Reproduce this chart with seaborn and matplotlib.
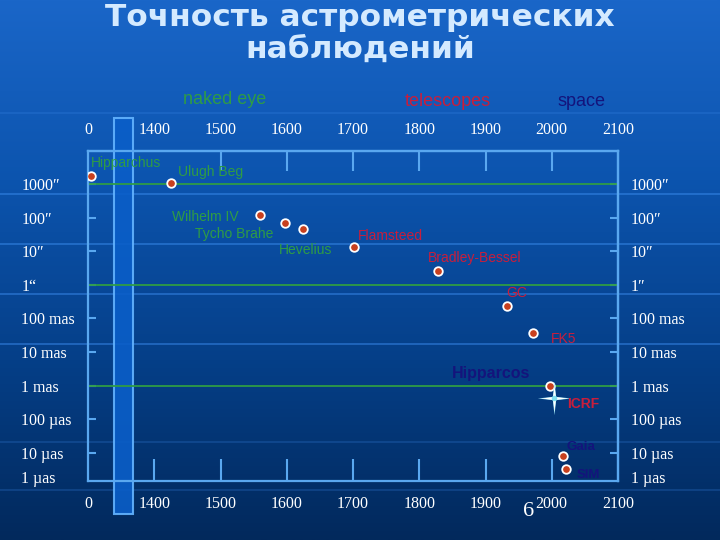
import numpy as np
import pandas as pd
import matplotlib
matplotlib.use("Agg")
import matplotlib.pyplot as plt
import matplotlib.transforms as mtrans
from matplotlib.colors import LinearSegmentedColormap
from matplotlib.patches import Rectangle
from matplotlib.path import Path
import seaborn as sns

# ---------------- data ----------------
names = ["Hipparchus", "Ulugh Beg", "Wilhelm IV", "Tycho Brahe", "Hevelius",
         "Flamsteed", "Bradley-Bessel", "GC", "FK5", "Hipparcos", "Gaia", "SIM"]
# position on the (broken) year axis; Hipparchus sits just right of the "0" break
plot_years = [1305, 1425, 1560, 1598, 1625, 1701, 1829, 1932, 1972, 1998, 2017, 2022]
# log10 of accuracy in arcseconds (3 = 1000", 0 = 1", -3 = 1 mas, -6 = 1 µas)
log_accuracy = [3.25, 3.02, 2.07, 1.84, 1.65, 1.13, 0.42, -0.64, -1.43, -3.01, -5.10, -5.48]
groups = ["naked eye"] * 5 + ["telescopes"] * 4 + ["space"] * 3

icrf_year = 2003
icrf_log = -3.36

x_tick_pos = [1300, 1400, 1500, 1600, 1700, 1800, 1900, 2000, 2100]
x_tick_labels = ["0", "1400", "1500", "1600", "1700", "1800", "1900", "2000", "2100"]
x_bottom_marks = [1400, 1500, 1600, 1700, 1800, 1900, 2000]
x_top_marks = [1500, 1600, 1700, 1800, 1900, 2000]

# the "1 µas" label sits just above the bottom frame (no tick mark there)
y_tick_pos = [3, 2, 1, 0, -1, -2, -3, -4, -5, -5.72]
y_left_labels = ["1000″", "100″", "10″", "1“", "100 mas", "10 mas", "1 mas",
                 "100 µas", "10 µas", "1 µas"]
y_right_labels = ["1000″", "100″", "10″", "1″", "100 mas", "10 mas", "1 mas",
                  "100 µas", "10 µas", "1 µas"]
y_marks = [3, 2, 1, 0, -1, -2, -3, -4, -5]
ref_lines = [3, 0, -3]

# label placement (offset in pixels, horizontal alignment) -- layout only
label_layout = {
    "Hipparchus": (0, 13, "left"), "Ulugh Beg": (7, 11, "left"),
    "Wilhelm IV": (-22, -2, "right"), "Tycho Brahe": (-12, -11, "right"),
    "Hevelius": (-24, -21, "left"), "Flamsteed": (4, 11, "left"),
    "Bradley-Bessel": (-11, 13, "left"), "GC": (0, 13, "left"),
    "FK5": (18, -6, "left"), "Hipparcos": (-99, 12, "left"),
    "Gaia": (3, 9, "left"), "SIM": (10, -6, "left"),
}
GREEN = "#2f9c45"
RED = "#c81e3c"
NAVY = "#14147c"
group_color = {"naked eye": GREEN, "telescopes": RED, "space": NAVY}
AXC = "#5aa8f0"

sns.set_theme(style="white")
plt.rcParams["font.family"] = ["Liberation Sans", "DejaVu Sans"]

fig = plt.figure(figsize=(7.2, 5.4), dpi=100)

# background gradient
bg = fig.add_axes([0, 0, 1, 1], zorder=-10)
grad = np.linspace(0, 1, 256)[:, None]
cmap = LinearSegmentedColormap.from_list("bg", ["#1a66c8", "#0c54ae", "#053f88", "#02295c"])
bg.imshow(grad, aspect="auto", cmap=cmap, extent=[0, 1, 0, 1], origin="upper")
for ypx, a in [(113, 0.25), (194, 0.55), (244, 0.55), (294, 0.55), (344, 0.55), (442, 0.25), (490, 0.25)]:
    bg.axhline(1 - ypx / 540, color="#3d8ef0", lw=1.2, alpha=a)
bg.set_xlim(0, 1)
bg.set_ylim(0, 1)
bg.axis("off")

ax = fig.add_axes([88 / 720, 59 / 540, 530 / 720, 330 / 540])
ax.patch.set_alpha(0)

df = pd.DataFrame({"year": plot_years, "logacc": log_accuracy, "name": names, "group": groups})

for v in ref_lines:
    ax.axhline(v, color=GREEN, lw=1.3, zorder=2)

sns.scatterplot(data=df, x="year", y="logacc", ax=ax, s=38, color="#c8401e",
                edgecolor="white", linewidth=1.3, zorder=5, legend=False)

ax.set_xlim(1300, 2100)
ax.set_ylim(-5.84, 3.98)
ax.set_xlabel("")
ax.set_ylabel("")

# vertical translucent band (axis break marker)
trans = mtrans.blended_transform_factory(ax.transData, fig.transFigure)
ax.add_patch(Rectangle((1339, 26 / 540), 29, 396 / 540, transform=trans,
                       facecolor="#0a5ec8", edgecolor="#64b4ff", lw=1.5,
                       alpha=0.9, clip_on=False, zorder=1))

# labels
for _, r in df.iterrows():
    dx, dy, ha = label_layout[r["name"]]
    bold = r["group"] == "space"
    fs = 11.5 if r["name"] == "Hipparcos" else (9.5 if bold else 10)
    ax.annotate(r["name"], (r["year"], r["logacc"]), xytext=(dx, dy),
                textcoords="offset pixels", ha=ha, va="center",
                color=group_color[r["group"]], fontsize=fs,
                fontweight="bold" if bold else "normal", zorder=6)

# ICRF star
s = 0.1
star = Path([(0, 1), (s, s), (1, 0), (s, -s), (0, -1), (-s, -s), (-1, 0), (-s, s), (0, 1)],
            [Path.MOVETO] + [Path.LINETO] * 7 + [Path.CLOSEPOLY])
ax.plot([icrf_year], [icrf_log], marker=star, markersize=24, color="#9fe8f8", mec="none", zorder=7)
ax.plot([icrf_year], [icrf_log], marker=star, markersize=19, color="white", mec="none", zorder=8)
ax.plot([icrf_year], [icrf_log], marker="o", markersize=4, color="#7fe0f0", mec="none", zorder=9)
ax.annotate("ICRF", (icrf_year, icrf_log), xytext=(13, -6), textcoords="offset pixels",
            ha="left", va="center", color=RED, fontsize=10, fontweight="bold", zorder=9)

# spines
for sp in ax.spines.values():
    sp.set_color(AXC)
    sp.set_linewidth(1.6)

TFS = 11.5

# bottom x axis
ax.xaxis.remove_overlapping_locs = False
ax.yaxis.remove_overlapping_locs = False
ax.set_xticks(x_tick_pos, x_tick_labels)
ax.set_xticks(x_bottom_marks, minor=True)
ax.tick_params(axis="x", which="major", length=0, pad=10.5, labelsize=TFS, labelcolor="white")
ax.tick_params(axis="x", which="minor", direction="in", length=15.8, width=1.5, color=AXC,
               bottom=True, top=False)
for lbl in ax.get_xticklabels():
    lbl.set_family("Liberation Serif")

# top x axis
secx = ax.secondary_xaxis("top")
secx.xaxis.remove_overlapping_locs = False
secx.set_xticks(x_tick_pos, x_tick_labels)
secx.set_xticks(x_top_marks, minor=True)
secx.tick_params(axis="x", which="major", length=0, pad=9, labelsize=TFS, labelcolor="white")
secx.tick_params(axis="x", which="minor", direction="in", length=14.4, width=1.5, color=AXC,
                 top=True)
secx.spines["top"].set_color(AXC)
secx.spines["top"].set_linewidth(1.6)
for lbl in secx.get_xticklabels():
    lbl.set_family("Liberation Serif")

# left y axis
ax.set_yticks(y_tick_pos, y_left_labels)
ax.set_yticks(y_marks, minor=True)
ax.tick_params(axis="y", which="major", length=0, pad=48, labelsize=TFS, labelcolor="white")
ax.tick_params(axis="y", which="minor", direction="in", length=5.8, width=1.5, color=AXC,
               left=True, right=False)
for lbl in ax.get_yticklabels():
    lbl.set_family("Liberation Serif")
    lbl.set_horizontalalignment("left")

# right y axis
secy = ax.secondary_yaxis("right")
secy.yaxis.remove_overlapping_locs = False
secy.set_yticks(y_tick_pos, y_right_labels)
secy.set_yticks(y_marks, minor=True)
secy.tick_params(axis="y", which="major", length=0, pad=9, labelsize=TFS, labelcolor="white")
secy.tick_params(axis="y", which="minor", direction="in", length=5.8, width=1.5, color=AXC,
                 right=True)
secy.spines["right"].set_color(AXC)
secy.spines["right"].set_linewidth(1.6)
for lbl in secy.get_yticklabels():
    lbl.set_family("Liberation Serif")

# era headings
fig.text(225 / 720, 1 - 100 / 540, "naked eye", color=GREEN, fontsize=13, ha="center", va="center")
fig.text(448 / 720, 1 - 101 / 540, "telescopes", color=RED, fontsize=13, ha="center", va="center")
fig.text(581 / 720, 1 - 102 / 540, "space", color=NAVY, fontsize=13, ha="center", va="center")

# title
fig.text(0.5, 1 - 18 / 540, "Точность астрометрических", color="#d4eaff", fontsize=22.5,
         fontweight="bold", ha="center", va="center", family="DejaVu Sans")
fig.text(0.5, 1 - 49 / 540, "наблюдений", color="#d4eaff", fontsize=22.5,
         fontweight="bold", ha="center", va="center", family="DejaVu Sans")

# slide number
fig.text(529 / 720, 1 - 512 / 540, "6", color="white", fontsize=16, ha="center", va="center",
         family="Liberation Serif")

fig.savefig("out.png", dpi=100)
